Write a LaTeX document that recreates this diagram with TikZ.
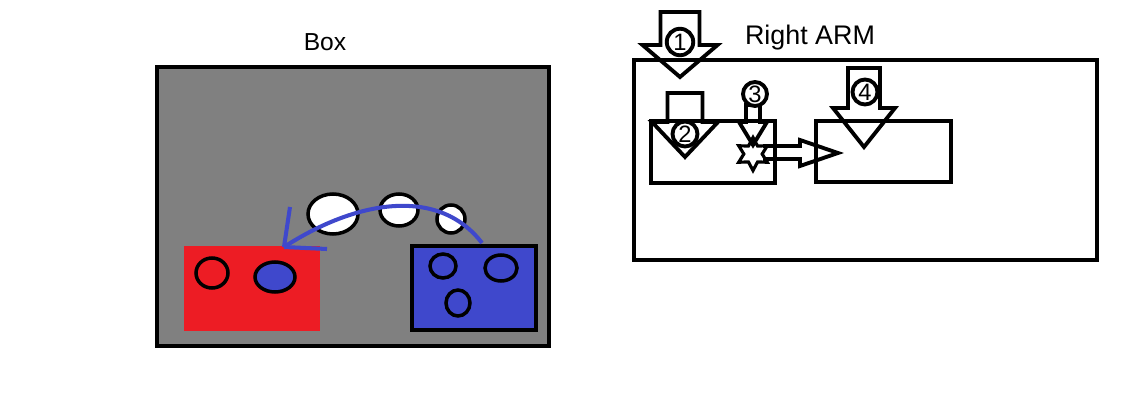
\documentclass[tikz,border=0pt]{standalone}
\usepackage{fontspec}
\setmainfont{Liberation Sans}
\usetikzlibrary{shapes.geometric}
\definecolor{boxgray}{RGB}{128,128,128}
\definecolor{paintred}{RGB}{237,28,36}
\definecolor{paintblue}{RGB}{63,72,204}
\begin{document}
\begin{tikzpicture}[x=0.02cm,y=-0.02cm,
    thick line/.style={line width=2.2pt},
    blob/.style={draw=black,line width=2pt},
    numcircle/.style={circle,draw=black,fill=white,line width=2.2pt,inner sep=0pt,minimum size=0.53cm,font=\fontsize{13.5}{13.5}\selectfont},
    label text/.style={font=\fontsize{14}{14}\selectfont}]
    \useasboundingbox (0,0) rectangle (1133,412);

    % left picture
    \node[label text] (boxlabel) at (325,42) {Box};
    \filldraw[fill=boxgray,thick line] (157,67) rectangle (549,346);
    \fill[paintred] (184,246) rectangle (320,331);
    \filldraw[fill=paintblue,thick line] (412,246) rectangle (536,330);

    \draw[blob,fill=white] (333,214) ellipse (25 and 20);
    \draw[blob,fill=white] (399,210) ellipse (19 and 16);
    \draw[blob,fill=white] (451,219) ellipse (14 and 14);

    \draw[blob] (212,273) ellipse (16 and 15);
    \draw[blob,fill=paintblue] (275,277) ellipse (20 and 15);
    \draw[blob] (443,266) ellipse (13 and 12);
    \draw[blob] (501,268) ellipse (16 and 13);
    \draw[blob] (458,303) ellipse (12 and 13);

    \coordinate (from) at (482,243);
    \coordinate (tip) at (284,247);
    \draw[paintblue,line width=2.3pt] (from) .. controls (440,188) and (360,198) .. (tip);
    \draw[paintblue,line width=2.3pt] (tip) -- (290,207);
    \draw[paintblue,line width=2.3pt] (tip) -- (327,249);

    % right picture
    \node[label text,font=\fontsize{15.3}{15.3}\selectfont] (armlabel) at (810,38) {Right ARM};
    \draw[thick line] (634,60) rectangle (1097,260);
    \draw[thick line] (651,121) rectangle (775,183);
    \draw[thick line] (816,121) rectangle (951,182);

    \draw[thick line,line join=miter] (660.5,12) -- (699.5,12) -- (699.5,45) -- (717.5,45)
        -- (680,77) -- (642.5,45) -- (660.5,45) -- cycle;
    \draw[thick line,line join=miter] (667.5,93) -- (702.5,93) -- (702.5,122) -- (718,122)
        -- (685,157) -- (652,122) -- (667.5,122) -- cycle;
    \draw[thick line,line join=miter] (746,105) -- (760,105) -- (760,122) -- (767,122)
        -- (753,145) -- (739,122) -- (746,122) -- cycle;
    \draw[thick line,line join=miter] (848,68) -- (880,68) -- (880,108) -- (895,108)
        -- (864,147) -- (833,108) -- (848,108) -- cycle;

    \node[star,star points=6,star point ratio=1.8,draw,line width=1.8pt,
        minimum size=0.66cm,inner sep=0pt] (spark) at (753,154) {};
    \draw[thick line,line join=miter] (763,146) -- (800,146) -- (800,140) -- (838,153)
        -- (800,166) -- (800,159) -- (763,159);

    \node[numcircle] (one) at (680,42) {1};
    \node[numcircle,minimum size=0.5cm] (two) at (685,134) {2};
    \node[numcircle,minimum size=0.48cm] (three) at (755,94) {3};
    \node[numcircle,minimum size=0.5cm] (four) at (865,92) {4};
\end{tikzpicture}
\end{document}
